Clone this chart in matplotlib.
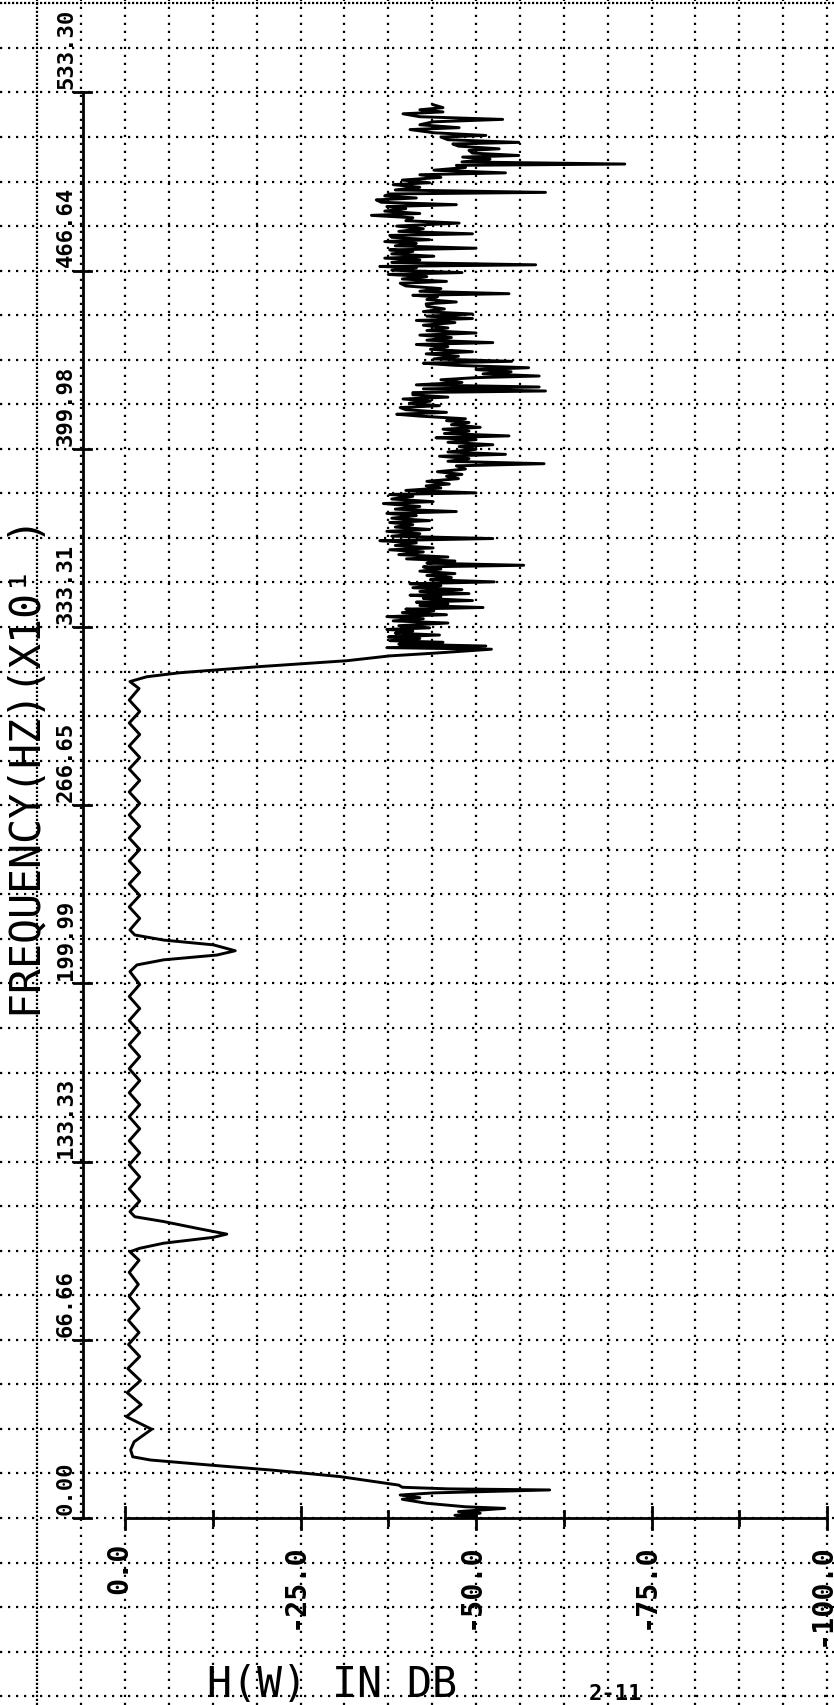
import numpy as np
import matplotlib.pyplot as plt

# frequency axis ticks (HZ x10^1) and dB ticks
freq_ticks = [0.0, 66.6625, 133.325, 199.9875, 266.65, 333.3125, 399.975, 466.6375, 533.30]
freq_labels = ["0.00", "66.66", "133.33", "199.99", "266.65", "333.31", "399.98", "466.64", "533.30"]
db_ticks = [0.0, -25.0, -50.0, -75.0, -100.0]
db_labels = ["0.0", "-25.0", "-50.0", "-75.0", "-100.0"]
db_minor = [-12.5, -37.5, -62.5, -87.5]

# lower stopband + rising edge
low_f = [0.0, 0.5, 1.0, 1.8, 2.4, 3.6, 4.2, 5.5, 7.0, 7.6, 8.6, 9.4, 10.5, 10.9, 11.5, 12.3,
         15.5, 17.9, 19.8, 21.7, 22.9]
low_db = [-48.0, -50.0, -47.0, -50.6, -47.5, -54.1, -48.5, -43.0, -39.5, -42.0, -39.2, -44.0, -60.5, -46.0, -39.5, -39.0,
          -30.6, -21.0, -12.1, -3.6, -1.1]

# passband with ripple and the two notches
pass_f = [25.5, 28.5, 33.2, 37.9, 42.4, 46.9, 51.4, 55.9, 60.4, 64.9, 69.4, 73.9, 78.4, 82.9, 87.4, 91.9, 96.4,
          99.6, 100.9, 102.8, 105.0, 106.2, 108.4, 110.9, 112.7, 114.6,
          118.6, 123.1, 127.6, 132.1, 136.6, 141.1, 145.6, 150.1, 154.6, 159.1, 163.6, 168.1, 172.6, 177.1,
          181.6, 186.1, 190.6, 195.1, 199.6,
          204.4, 206.9, 208.8, 210.6, 212.2, 214.4, 216.2, 218.1, 220.0,
          224.3, 228.6, 232.9, 237.2, 241.5, 245.8, 250.1, 254.4, 258.7, 263.0, 267.3, 271.6, 275.9, 280.2,
          284.5, 288.8, 293.1, 297.4, 301.7, 306.0, 310.3, 312.9,
          314.7, 316.2, 318.5, 320.7, 322.5, 323.5, 324.7, 325.0]
pass_db = [-0.8, -1.3, -3.8, -0.2, -2.3, -0.3, -2.2, -0.4, -2.1, -0.5, -2.0, -0.5, -2.0, -0.6, -1.9, -0.6, -2.0,
           -0.7, -2.1, -5.5, -12.6, -14.5, -10.2, -5.5, -1.4, -0.7,
           -2.1, -0.6, -2.1, -0.6, -2.1, -0.6, -2.1, -0.6, -2.1, -0.6, -2.1, -0.6, -2.1, -0.6,
           -2.1, -0.6, -2.1, -0.6, -2.1,
           -0.7, -1.7, -5.5, -13.1, -15.7, -12.6, -5.5, -1.4, -0.7,
           -2.1, -0.6, -2.1, -0.6, -2.1, -0.6, -2.1, -0.6, -2.1, -0.6, -2.1, -0.6, -2.1, -0.6,
           -2.1, -0.6, -2.1, -0.6, -2.1, -0.6, -2.0, -0.7,
           -3.1, -7.8, -19.2, -31.6, -37.7, -43.9, -50.6, -52.2]

# upper stopband (noisy)
high_f = [325.6, 326.2, 326.9, 327.6, 328.2, 329.0, 329.6, 330.3, 331.0, 331.8, 332.4, 333.0, 333.8, 334.8, 335.6,
          336.4, 337.2, 337.9, 338.7, 339.4, 340.0, 340.6, 341.4, 342.0, 342.6, 343.2, 344.0, 344.6, 345.2, 345.8,
          346.6, 347.3, 348.0, 348.8, 349.5, 350.2, 351.0, 351.8, 352.6, 353.3, 354.2, 355.0, 355.8, 356.4, 357.2,
          358.0, 358.8, 359.5, 360.4, 361.4, 362.2, 362.9, 363.8, 364.8, 365.6, 366.4, 367.3, 368.2, 369.1, 369.8,
          370.7, 371.6, 372.4, 373.1, 374.0, 375.0, 375.8, 376.5, 377.4, 378.4, 379.5, 380.2, 381.2, 382.2, 382.9,
          383.5, 384.4, 385.3, 386.1, 386.8, 387.8, 388.8, 389.7, 390.4, 391.4, 392.4, 393.6, 394.4, 395.3, 396.3,
          397.2, 397.9, 398.8, 399.8, 400.8, 401.5, 402.4, 403.4, 404.1, 404.8, 405.7, 406.6, 407.3, 408.0, 409.0,
          409.8, 410.5, 411.2, 412.2, 412.9, 413.6, 414.6, 415.4, 416.1, 417.0, 417.8, 418.6, 419.3, 420.2, 421.0,
          421.6, 422.4, 423.1, 423.9, 424.8, 425.8, 426.6, 427.2, 428.0, 428.8, 429.6, 430.3, 431.2, 432.0, 432.7,
          433.6, 434.6, 435.5, 436.3, 437.2, 438.2, 439.0, 439.7, 440.6, 441.6, 442.5, 443.3, 444.2, 445.2, 446.2,
          447.2, 448.0, 448.7, 449.6, 450.4, 451.3, 452.3, 453.3, 454.2, 454.9, 455.8, 456.8, 457.4, 458.0, 458.9,
          459.9, 460.9, 461.9, 462.6, 463.5, 464.4, 465.2, 465.9, 466.8, 467.7, 468.2, 468.8, 469.7, 470.6, 471.3,
          472.0, 472.9, 473.8, 474.4, 475.0, 475.9, 476.8, 477.5, 478.2, 479.1, 479.8, 480.4, 481.3, 482.3, 483.3,
          484.4, 485.3, 486.4, 487.3, 488.0, 488.9, 489.8, 490.6, 491.3, 492.2, 493.1, 493.8, 494.6, 495.3, 495.9,
          496.8, 497.8, 498.8, 499.5, 500.5, 501.5, 502.5, 503.2, 504.2, 505.2, 506.0, 506.5, 507.3, 508.3, 509.1,
          509.7, 510.6, 511.6, 512.2, 513.2, 514.0, 514.6, 515.6, 516.6, 517.2, 518.2, 519.4, 520.1, 521.2, 522.3,
          523.2, 524.2, 525.3, 526.0, 526.8, 527.6, 528.7]
high_db = [-37.3, -51.4, -39.0, -45.3, -37.7, -42.0, -37.5, -44.8, -38.5, -41.0, -37.3, -43.4, -39.0, -46.0, -38.2,
           -42.5, -37.3, -45.8, -39.5, -44.0, -40.0, -51.0, -42.0, -46.0, -41.5, -49.5, -42.5, -45.0, -40.6, -49.0,
           -42.0, -48.0, -41.0, -45.0, -40.6, -52.6, -43.5, -46.5, -43.0, -47.0, -42.0, -45.0, -42.5, -56.8, -43.0,
           -47.0, -40.1, -46.0, -39.0, -42.5, -37.7, -43.9, -38.5, -41.5, -36.3, -52.4, -38.0, -42.0, -37.3, -43.4,
           -38.5, -41.0, -37.7, -43.4, -38.0, -41.5, -37.3, -47.2, -38.5, -42.0, -36.8, -43.9, -38.0, -41.0, -37.7,
           -50.0, -40.0, -45.0, -42.9, -46.2, -43.0, -47.5, -45.8, -48.0, -44.5, -48.5, -47.2, -59.7, -46.0, -49.0,
           -44.8, -54.2, -46.0, -50.0, -47.6, -52.4, -46.0, -50.0, -44.3, -54.7, -45.5, -49.0, -45.3, -50.6, -46.5,
           -49.0, -45.8, -48.5, -42.0, -38.7, -45.8, -40.0, -39.2, -44.8, -40.5, -43.5, -39.6, -46.0, -41.0, -41.0,
           -59.9, -42.5, -59.0, -41.5, -48.0, -45.0, -50.0, -59.0, -51.0, -55.0, -50.0, -57.5, -47.0, -42.5, -55.1,
           -44.0, -47.5, -42.9, -49.5, -43.5, -46.0, -41.5, -52.4, -43.0, -46.5, -42.0, -50.0, -43.0, -46.0, -42.5,
           -47.0, -41.5, -49.5, -43.0, -49.5, -42.5, -45.5, -43.0, -42.9, -47.2, -43.0, -44.5, -41.0, -54.7, -42.0,
           -45.0, -40.0, -39.2, -45.8, -39.5, -43.0, -37.5, -48.0, -38.0, -41.5, -36.3, -58.5, -38.0, -42.0, -37.0,
           -44.0, -38.0, -41.0, -37.7, -50.0, -38.5, -41.5, -37.0, -43.4, -38.0, -37.7, -49.5, -39.0, -42.5, -38.7,
           -47.6, -40.0, -41.0, -35.1, -42.0, -37.0, -40.0, -37.3, -47.2, -36.5, -35.8, -41.5, -37.0, -37.7, -59.9,
           -38.5, -42.0, -38.2, -43.4, -39.5, -45.0, -42.0, -54.2, -44.0, -48.5, -47.2, -71.2, -48.0, -52.0, -48.1,
           -56.1, -49.5, -49.0, -53.3, -47.5, -46.7, -56.1, -46.0, -45.0, -51.4, -44.0, -40.6, -47.6, -42.0, -43.9,
           -53.8, -42.0, -39.6, -45.3, -42.0, -45.3, -43.9]

# page geometry (pixels of the 834x1705 sheet)
W, H = 834, 1705
x0db, px_per_db = 125.0, 7.02        # 0 dB column, pixels per dB
y0f, px_per_f = 1518.0, 178.2 / 66.6625  # 0 Hz row, pixels per freq unit

fig = plt.figure(figsize=(W / 100, H / 100), dpi=100)
fig.patch.set_facecolor("white")
ax = fig.add_axes([0, 0, 1, 1])
ax.set_xlim(x0db / px_per_db, -(W - x0db) / px_per_db)
ax.set_ylim(-(H - y0f) / px_per_f, y0f / px_per_f)
ax.axis("off")

# graph paper dots
for k in range(-16, 3):
    dens = (0, (1, 0.8)) if k == 2 else (0, (1, 2.6))
    ax.axvline(6.25 * k, color="black", lw=1.6, linestyle=dens, zorder=0)
for k in range(-4, 35):
    dens = (0, (1, 0.8)) if k == 34 else (0, (1, 2.6))
    ax.axhline(k * 533.30 / 32, color="black", lw=1.6, linestyle=dens, zorder=0)

# frequency axis
xa = 6.0
ax.plot([xa, xa], [0, freq_ticks[-1]], color="black", lw=2.0, zorder=2)
for t, lab in zip(freq_ticks, freq_labels):
    ax.plot([xa + 1.2, xa - 1.2], [t, t], color="black", lw=2.0, zorder=2)
    ax.text(7.55, t + 1.2, lab, rotation=90, rotation_mode="anchor", ha="left", va="baseline",
            fontsize=16, fontweight="bold", family="DejaVu Sans Mono", zorder=4)

# dB axis
ax.plot([db_ticks[0], db_ticks[-1]], [0, 0], color="black", lw=2.0, zorder=2)
for d, lab in zip(db_ticks, db_labels):
    ax.plot([d, d], [-4.1, 4.1], color="black", lw=2.0, zorder=2)
    ax.text(d - 0.36, -9.35, lab, rotation=90, rotation_mode="anchor", ha="right", va="baseline",
            fontsize=20.5, fontweight="bold", family="DejaVu Sans Mono", zorder=4)
for d in db_minor:
    ax.plot([d, d], [-2.6, 2.6], color="black", lw=2.0, zorder=2)

# response curve
f_all = np.concatenate([low_f, pass_f, high_f])
db_all = np.concatenate([low_db, pass_db, high_db])
ax.plot(db_all, f_all, color="black", lw=2.1, solid_joinstyle="round", zorder=3)

# titles
ax.text(12.1, 187.0, "FREQUENCY(HZ)(X10\u00b9 )", rotation=90, rotation_mode="anchor",
        ha="left", va="baseline", fontsize=30, family="DejaVu Sans Mono", zorder=4)
ax.text(-11.7, -67.0, "H(W) IN DB", ha="left", va="baseline", fontsize=30,
        family="DejaVu Sans Mono", zorder=4)
ax.text(-66.0, -62.0, "2-11", ha="left", va="top", fontsize=16, fontweight="bold",
        family="DejaVu Sans Mono", zorder=4)

fig.savefig("out.png", dpi=100, facecolor="white")
